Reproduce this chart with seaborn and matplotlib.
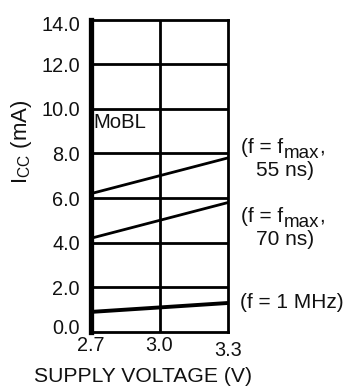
import matplotlib
matplotlib.use("Agg")
import matplotlib.pyplot as plt
from matplotlib.transforms import ScaledTranslation
import seaborn as sns
import pandas as pd

# ---- data ----
voltage = [2.7, 3.3]
icc_55ns = [6.2, 7.8]
icc_70ns = [4.2, 5.8]
icc_1mhz = [0.9, 1.3]
series_names = ["55ns", "70ns", "1MHz"]
x_ticks = [2.7, 3.0, 3.3]
x_tick_labels = ["2.7", "3.0", "3.3"]
y_ticks = [0, 2, 4, 6, 8, 10, 12, 14]
y_tick_labels = ["0.0", "2.0", "4.0", "6.0", "8.0", "10.0", "12.0", "14.0"]

df = pd.DataFrame({
    "V": voltage * 3,
    "I": icc_55ns + icc_70ns + icc_1mhz,
    "s": [series_names[0]] * 2 + [series_names[1]] * 2 + [series_names[2]] * 2,
})

sns.set_theme(style="white")
plt.rcParams["font.family"] = ["Liberation Sans", "DejaVu Sans"]
plt.rcParams["mathtext.fontset"] = "custom"
plt.rcParams["mathtext.rm"] = "Liberation Sans"
plt.rcParams["mathtext.it"] = "Liberation Sans"

W, H = 344, 390
TXT = "#111111"
fig = plt.figure(figsize=(W / 100, H / 100), dpi=100)
ax = fig.add_axes([91/W, 1 - 332/H, (228 - 91)/W, (332 - 19.5)/H])

sns.lineplot(data=df, x="V", y="I", hue="s", palette=["black"] * 3,
             size="s", sizes={"55ns": 2.0, "70ns": 2.0, "1MHz": 2.8},
             legend=False, ax=ax)

ax.set_xlim(2.7, 3.3)
ax.set_ylim(0, 14)
ax.set_xticks(x_ticks)
ax.set_xticklabels(x_tick_labels)
ax.set_yticks(y_ticks)
ax.set_yticklabels(y_tick_labels)

for v in y_ticks[1:-1]:
    ax.axhline(v, color="black", lw=2.0, zorder=1)
ax.axvline(3.0, color="black", lw=2.0, zorder=1)

for side in ["top", "right", "bottom"]:
    ax.spines[side].set_visible(True)
    ax.spines[side].set_color("black")
    ax.spines[side].set_linewidth(2.0)
ax.spines["left"].set_color("black")
ax.spines["left"].set_linewidth(3.8)

ax.tick_params(axis="both", which="both", length=0, labelsize=14.3, colors=TXT)
ax.tick_params(axis="y", pad=8)
ax.tick_params(axis="x", pad=3)

# quirks: 3.3 label slightly lower, extreme y labels nudged inward
xl = ax.get_xticklabels()
xl[2].set_transform(xl[2].get_transform() + ScaledTranslation(0, -5/100, fig.dpi_scale_trans))
yl = ax.get_yticklabels()
yl[0].set_transform(yl[0].get_transform() + ScaledTranslation(0, 5/100, fig.dpi_scale_trans))
yl[-1].set_transform(yl[-1].get_transform() + ScaledTranslation(0, -4/100, fig.dpi_scale_trans))

ax.set_xlabel("")
ax.set_ylabel("")
fig.text(143/W, 1 - 376/H, "SUPPLY VOLTAGE (V)", ha="center", va="center",
         fontsize=15.2, color=TXT)
fig.text(22/W, 1 - 142/H, r"I$_{\mathrm{CC}}$ (mA)", ha="center", va="center",
         rotation=90, fontsize=16, color=TXT)

ax.text(2.71, 9.4, "MoBL", ha="left", va="center", fontsize=14.6, color=TXT)

renderer = fig.canvas.get_renderer()


def fmax_line(xc, ybase):
    t1 = fig.text(0, 0, "(f = f", fontsize=15, va="baseline", ha="left", color=TXT)
    t2 = fig.text(0, 0, "max", fontsize=13.5, va="baseline", ha="left", color=TXT)
    t3 = fig.text(0, 0, ",", fontsize=15, va="baseline", ha="left", color=TXT)
    w1 = t1.get_window_extent(renderer).width
    w2 = t2.get_window_extent(renderer).width
    w3 = t3.get_window_extent(renderer).width
    x0 = xc - (w1 + w2 + w3) / 2
    t1.set_position((x0 / W, 1 - ybase / H))
    t2.set_position(((x0 + w1) / W, 1 - (ybase + 5) / H))
    t3.set_position(((x0 + w1 + w2) / W, 1 - ybase / H))


fmax_line(283, 153)
fig.text(285/W, 1 - 176/H, "55 ns)", ha="center", va="baseline", fontsize=15, color=TXT)
fmax_line(283, 222)
fig.text(285/W, 1 - 245/H, "70 ns)", ha="center", va="baseline", fontsize=15, color=TXT)
fig.text(291.5/W, 1 - 303/H, "(f = 1 MHz)", ha="center", va="center",
         fontsize=15, color=TXT)

fig.savefig("out.png", dpi=100, facecolor="white")
